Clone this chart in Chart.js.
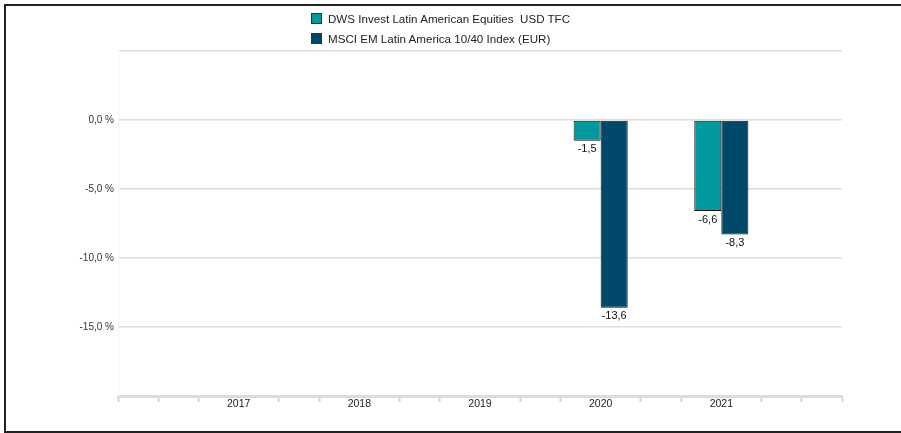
<!DOCTYPE html>
<html>
<head>
<meta charset="utf-8">
<script src="https://cdn.jsdelivr.net/npm/chart.js@4.4.1/dist/chart.umd.min.js"></script>
<style>
  html, body { margin: 0; padding: 0; width: 901px; height: 433px; overflow: hidden; background: #fff; }
  #frame { position: absolute; left: 4px; top: 4px; width: 920px; height: 425px; border: 2px solid #222; }
  #wrap { position: absolute; left: 0; top: 0; width: 901px; height: 433px; }
  #legend { position: absolute; left: 311px; top: 8px; font-family: "Liberation Sans", Arial, sans-serif; font-size: 11.6px; color: #222; white-space: pre; }
  #legend .item { display: flex; align-items: center; height: 20px; }
  #legend .box { width: 9px; height: 9px; border: 1px solid #333; margin-right: 6px; }
</style>
</head>
<body>
<div id="frame"></div>
<div id="wrap"><canvas id="c" width="901" height="433"></canvas></div>
<div id="legend"></div>
<script>
const years = ['2017', '2018', '2019', '2020', '2021'];
const fundName = 'DWS Invest Latin American Equities  USD TFC';
const indexName = 'MSCI EM Latin America 10/40 Index (EUR)';
const fundValues = [null, null, null, -1.5, -6.6];
const indexValues = [null, null, null, -13.6, -8.3];
const yTicks = [5, 0, -5, -10, -15, -20];
const yLabelled = [0, -5, -10, -15];
const fundColor = '#009a9e';
const indexColor = '#00486a';

// Axis: each year sits on a slot; sub-ticks split the span between years into thirds.
const SUB = 3;
const LEAD = 3;
const slots = LEAD + years.length * SUB + 1;
const labels = [];
const fundData = [];
const indexData = [];
for (let i = 0; i < slots; i++) { labels.push(''); fundData.push(null); indexData.push(null); }
years.forEach((y, k) => {
  const idx = LEAD + k * SUB;
  labels[idx] = y;
  fundData[idx] = fundValues[k];
  indexData[idx] = indexValues[k];
});

const fmt = v => v.toFixed(1).replace('.', ',');

const valueLabels = {
  id: 'valueLabels',
  afterDatasetsDraw(chart) {
    const ctx = chart.ctx;
    ctx.save();
    ctx.font = '11px "Liberation Sans", Arial, sans-serif';
    ctx.fillStyle = '#111';
    ctx.textAlign = 'center';
    ctx.textBaseline = 'top';
    chart.data.datasets.forEach((ds, di) => {
      const meta = chart.getDatasetMeta(di);
      meta.data.forEach((el, i) => {
        const v = ds.data[i];
        if (v === null || v === undefined) return;
        ctx.fillText(fmt(v), el.x, el.y + 3);
      });
    });
    ctx.restore();
  }
};

const chart = new Chart(document.getElementById('c'), {
  type: 'bar',
  data: {
    labels: labels,
    datasets: [
      { label: fundName, data: fundData, backgroundColor: fundColor, borderColor: '#111', borderWidth: 1, borderSkipped: false },
      { label: indexName, data: indexData, backgroundColor: indexColor, borderColor: '#111', borderWidth: 1, borderSkipped: false }
    ]
  },
  options: {
    responsive: false,
    animation: false,
    devicePixelRatio: 1,
    layout: { padding: { left: 0, right: 59, top: 51, bottom: 16 } },
    datasets: { bar: { categoryPercentage: 1.345, barPercentage: 1 } },
    plugins: { legend: { display: false }, tooltip: { enabled: false } },
    scales: {
      x: {
        type: 'category',
        offset: false,
        afterFit: s => { s.height = 21; },
        grid: {
          offset: false,
          drawOnChartArea: false,
          drawTicks: true,
          tickLength: 6,
          tickWidth: 2,
          tickColor: c => (labels[c.index] ? 'rgba(0,0,0,0)' : '#d9d5ca')
        },
        border: { display: true, color: '#e0dcd2', width: 3 },
        ticks: {
          autoSkip: false,
          maxRotation: 0,
          padding: -4,
          color: '#222',
          font: { family: '"Liberation Sans", Arial, sans-serif', size: 10.5 }
        }
      },
      y: {
        min: Math.min(...yTicks),
        max: Math.max(...yTicks),
        afterBuildTicks: s => { s.ticks = yTicks.map(v => ({ value: v })); },
        afterFit: s => { s.width = 118; },
        grid: {
          drawTicks: false,
          tickLength: 0,
          lineWidth: 1.5,
          color: c => (c.tick && c.tick.value === Math.min(...yTicks) ? 'rgba(0,0,0,0)' : '#e2ded4')
        },
        border: { display: true, color: '#f6f5f2', width: 1 },
        ticks: {
          padding: 4,
          color: '#333',
          font: { family: '"Liberation Sans", Arial, sans-serif', size: 10 },
          callback: v => (yLabelled.includes(v) ? fmt(v) + ' %' : '')
        }
      }
    }
  },
  plugins: [valueLabels]
});

// HTML legend built from the chart's datasets
const lg = document.getElementById('legend');
chart.data.datasets.forEach(ds => {
  const it = document.createElement('div');
  it.className = 'item';
  const b = document.createElement('span');
  b.className = 'box';
  b.style.background = ds.backgroundColor;
  const t = document.createElement('span');
  t.textContent = ds.label;
  it.appendChild(b); it.appendChild(t);
  lg.appendChild(it);
});
</script>
</body>
</html>
